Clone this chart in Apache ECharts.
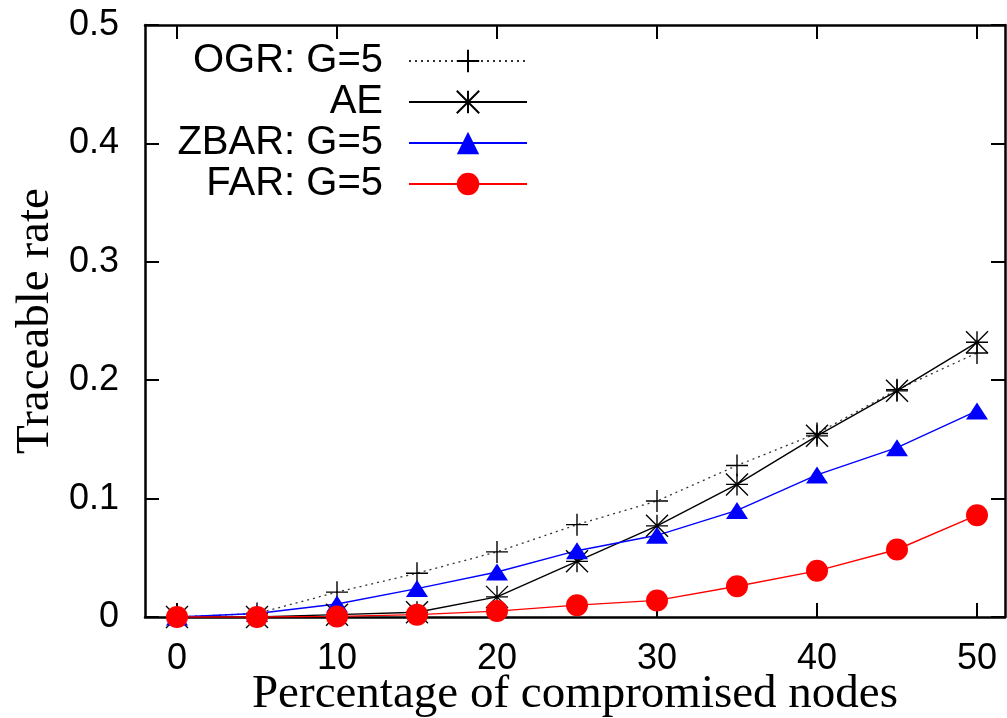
<!DOCTYPE html>
<html>
<head>
<meta charset="utf-8">
<script src="https://cdn.jsdelivr.net/npm/echarts@6/dist/echarts.min.js"></script>
<style>
  html, body { margin: 0; padding: 0; background: #fff; }
  #chart { width: 1007px; height: 718px; }
</style>
</head>
<body>
<div id="chart"></div>
<script>
// x: percentage of compromised nodes
const xValues = [0, 5, 10, 15, 20, 25, 30, 35, 40, 45, 50]
const xTicks = [0, 10, 20, 30, 40, 50]
// traceable rate per scheme
const ogrRate = [0, 0.003, 0.021, 0.037, 0.055, 0.078, 0.098, 0.128, 0.155, 0.192, 0.223]
const aeRate = [0, 0, 0.002, 0.004, 0.017, 0.047, 0.077, 0.112, 0.153, 0.191, 0.232]
const zbarRate = [0, 0.003, 0.011, 0.024, 0.038, 0.056, 0.069, 0.090, 0.120, 0.143, 0.174]
const farRate = [0, 0, 0.0005, 0.002, 0.005, 0.010, 0.014, 0.026, 0.039, 0.057, 0.086]
const seriesNames = ['OGR: G=5', 'AE', 'ZBAR: G=5', 'FAR: G=5']

const pairs = ys => xValues.map((x, i) => [x, ys[i]])

const sans = 'Liberation Sans'
const serif = 'Liberation Serif'

// gnuplot style point shapes
const plusPath = 'path://M0,-1 L0,1 M-1,0 L1,0'
const starPath = 'path://M0,-1 L0,1 M-1,0 L1,0 M-1,-1 L1,1 M-1,1 L1,-1'
const triPath = 'path://M0,-17 L11,0 L-11,0 Z'

const frameLine = { show: true, onZero: false, lineStyle: { color: '#000', width: 2.5 } }
const tickIn = { show: true, inside: true, length: 14, lineStyle: { color: '#000', width: 2 } }

const option = {
  animation: false,
  backgroundColor: '#fff',
  grid: { left: 145, right: 2, top: 25, bottom: 101, containLabel: false, outerBoundsMode: 'none' },
  legend: {
    orient: 'vertical',
    align: 'right',
    right: 479,
    top: 41,
    padding: 0,
    itemWidth: 118,
    itemHeight: 28,
    itemGap: 1,
    data: seriesNames,
    textStyle: { fontFamily: sans, fontSize: 40, color: '#000', lineHeight: 28, padding: [0, 21, 0, 0] }
  },
  xAxis: [
    {
      type: 'value',
      min: -2,
      max: 51.75,
      position: 'bottom',
      axisLine: frameLine,
      axisTick: Object.assign({ customValues: xTicks }, tickIn),
      axisLabel: { customValues: xTicks, fontFamily: sans, fontSize: 36, color: '#000', margin: 24 },
      splitLine: { show: false },
      name: 'Percentage of compromised nodes',
      nameLocation: 'middle',
      nameGap: 54,
      nameMoveOverlap: false,
      nameTextStyle: { fontFamily: serif, fontSize: 47, color: '#000' }
    },
    {
      type: 'value',
      min: -2,
      max: 51.75,
      position: 'top',
      axisLine: frameLine,
      axisTick: Object.assign({ customValues: xTicks }, tickIn),
      axisLabel: { show: false },
      splitLine: { show: false }
    }
  ],
  yAxis: [
    {
      type: 'value',
      min: 0,
      max: 0.5,
      interval: 0.1,
      position: 'left',
      axisLine: frameLine,
      axisTick: tickIn,
      axisLabel: { fontFamily: sans, fontSize: 36, color: '#000', margin: 26 },
      splitLine: { show: false },
      name: 'Traceable rate',
      nameLocation: 'middle',
      nameGap: 86,
      nameMoveOverlap: false,
      nameTextStyle: { fontFamily: serif, fontSize: 47, color: '#000' }
    },
    {
      type: 'value',
      min: 0,
      max: 0.5,
      interval: 0.1,
      position: 'right',
      axisLine: frameLine,
      axisTick: tickIn,
      axisLabel: { show: false },
      splitLine: { show: false }
    }
  ],
  series: [
    {
      name: seriesNames[0],
      type: 'line',
      data: pairs(ogrRate),
      symbol: plusPath,
      symbolSize: 22,
      symbolKeepAspect: true,
      itemStyle: { color: '#000', borderColor: '#000', borderWidth: 1.4 },
      lineStyle: { color: '#333', width: 1.3, type: [2, 4] }
    },
    {
      name: seriesNames[1],
      type: 'line',
      data: pairs(aeRate),
      symbol: starPath,
      symbolSize: 22,
      symbolKeepAspect: true,
      itemStyle: { color: '#000', borderColor: '#000', borderWidth: 1.4 },
      lineStyle: { color: '#000', width: 1.4 }
    },
    {
      name: seriesNames[2],
      type: 'line',
      data: pairs(zbarRate),
      symbol: triPath,
      symbolSize: 22,
      symbolKeepAspect: true,
      itemStyle: { color: '#00f', borderWidth: 0 },
      lineStyle: { color: '#00f', width: 1.4 }
    },
    {
      name: seriesNames[3],
      type: 'line',
      data: pairs(farRate),
      symbol: 'circle',
      symbolSize: 22,
      itemStyle: { color: '#f00', borderWidth: 0 },
      lineStyle: { color: '#f00', width: 1.4 }
    }
  ]
}

const chart = echarts.init(document.getElementById('chart'))
chart.setOption(option)
</script>
</body>
</html>
